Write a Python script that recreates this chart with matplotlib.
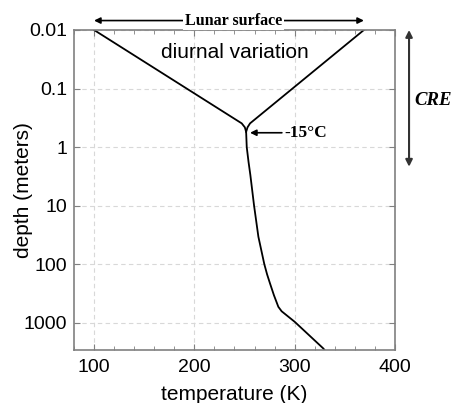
import matplotlib.pyplot as plt
from matplotlib.ticker import MultipleLocator, FixedLocator, NullLocator

plt.rcParams['font.family'] = ['Liberation Sans', 'DejaVu Sans']

# profile: temperature (K) vs depth (m)
left_temp = [100, 247.2, 250.3, 251.6, 252.2, 254.0, 255.8, 259.5, 263.8,
             269.7, 272.5, 275.4, 279.3, 283.7, 287.0, 300.0, 328.5, 329.5]
left_depth = [0.01, 0.394, 0.46, 0.55, 1.0, 1.8, 3.0, 10, 34,
              100, 150, 214, 340, 537, 640, 968, 2760, 2900]
right_temp = [369, 255.5, 253.0, 251.6]
right_depth = [0.01, 0.394, 0.46, 0.55]

ytick_vals = [0.01, 0.1, 1, 10, 100, 1000]
ytick_labels = ['0.01', '0.1', '1', '10', '100', '1000']
xtick_vals = [100, 200, 300, 400]

fig = plt.figure(figsize=(4.52, 4.03), dpi=100)
ax = fig.add_axes([0.1637, 0.1323, 0.7102, 0.7933])

ax.plot(left_temp, left_depth, color='black', lw=1.3)
ax.plot(right_temp, right_depth, color='black', lw=1.3)

ax.set_yscale('log')
ax.set_ylim(2900, 0.01)
ax.set_xlim(80, 400)
ax.yaxis.set_major_locator(FixedLocator(ytick_vals))
ax.set_yticklabels(ytick_labels)
ax.yaxis.set_minor_locator(NullLocator())
ax.set_xticks(xtick_vals)
ax.xaxis.set_minor_locator(MultipleLocator(20))

ax.tick_params(axis='both', which='both', direction='in', top=True, right=True,
               colors='#808080', labelcolor='black', labelsize=14)
ax.tick_params(axis='y', pad=5)
ax.tick_params(axis='x', pad=7)
ax.tick_params(which='major', length=4)
ax.tick_params(which='minor', length=3)
for s in ax.spines.values():
    s.set_color('#808080')
    s.set_linewidth(1.2)
ax.grid(True, which='major', ls=(0, (4, 3)), color='#d8d8d8', lw=0.8)

ax.set_xlabel('temperature (K)', fontsize=15, labelpad=6)
ax.set_ylabel('depth (meters)', fontsize=15)
ax.yaxis.set_label_coords(-0.128, 0.5)

ax.text(0.5, 0.93, 'diurnal variation', transform=ax.transAxes, ha='center',
        va='center', fontsize=15)

# Lunar surface arrow
ax.annotate('', xy=(100, 0.0069), xytext=(369, 0.0069), annotation_clip=False,
            arrowprops=dict(arrowstyle='<|-|>', color='black', lw=1.2,
                            mutation_scale=9, shrinkA=0, shrinkB=0))
ax.text(239, 0.0069, 'Lunar surface', ha='center', va='center',
        fontsize=11.5, fontweight='bold', family='Liberation Serif',
        bbox=dict(facecolor='white', edgecolor='none', pad=1), clip_on=False)

# -15 C marker
ax.annotate('-15°C', xy=(255.5, 0.57), xytext=(290, 0.57), ha='left', va='center',
            fontsize=12.5, fontweight='bold', family='Liberation Serif',
            arrowprops=dict(arrowstyle='-|>', color='black', lw=1.2,
                            mutation_scale=9, shrinkA=0, shrinkB=0))

# CRE arrow
ax.annotate('', xy=(414, 0.01), xytext=(414, 2.17), annotation_clip=False,
            arrowprops=dict(arrowstyle='<|-|>', color='#333333', lw=1.5,
                            mutation_scale=10, shrinkA=0, shrinkB=0))
ax.text(419, 0.16, 'CRE', ha='left', va='center', fontsize=13.5,
        fontweight='bold', fontstyle='italic', family='Liberation Serif',
        clip_on=False)

fig.savefig('out.png', dpi=100)
